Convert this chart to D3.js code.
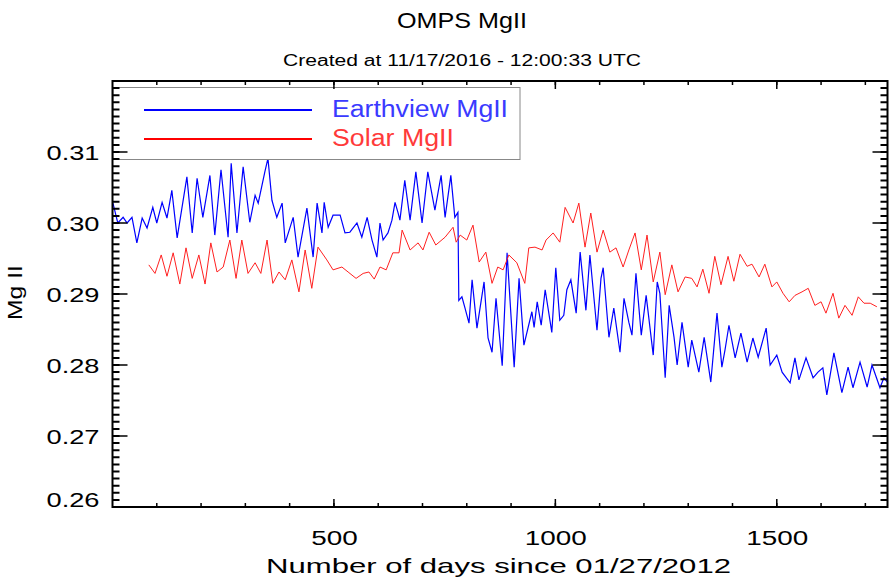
<!DOCTYPE html>
<html>
<head>
<meta charset="utf-8">
<script src="https://cdn.jsdelivr.net/npm/d3@7"></script>
<style>
body { margin: 0; background: #fff; }
text { font-family: "Liberation Sans", Arial, sans-serif; fill: #000; }
</style>
</head>
<body>
<svg id="chart"></svg>
<script>
const WIDTH = 889, HEIGHT = 583
const LEFT = 112.5, RIGHT = 887.5, TOP = 81, BOT = 507

// Earthview MgII (days since 01/27/2012, value)
const earthDays = [1, 12, 24, 33, 44, 55, 67, 78, 91, 100, 112, 123, 134, 146, 168, 180, 191, 204, 220, 231,
  245, 261, 268, 281, 295, 310, 322, 329, 344, 351, 360, 371, 383, 390, 408, 419, 439, 453, 462, 473,
  478, 487, 498, 514, 525, 536, 552, 563, 575, 586, 597, 604, 611, 622, 631, 638, 645, 649, 660, 672,
  685, 699, 712, 728, 742, 751, 764, 773, 780, 782, 789, 796, 805, 812, 823, 839, 848, 857, 866, 880,
  891, 907, 918, 929, 947, 952, 959, 968, 977, 992, 1001, 1010, 1019, 1026, 1035, 1047, 1056, 1069, 1078, 1094,
  1103, 1108, 1121, 1132, 1146, 1155, 1166, 1173, 1182, 1194, 1205, 1221, 1230, 1236, 1248, 1257, 1268, 1275, 1286, 1300,
  1308, 1324, 1336, 1351, 1365, 1376, 1383, 1392, 1406, 1419, 1433, 1446, 1458, 1476, 1485, 1500, 1512, 1530, 1541, 1550,
  1566, 1582, 1593, 1604, 1613, 1629, 1647, 1661, 1672, 1688, 1704, 1715, 1733, 1742, 1751]
const earthVals = [0.3028, 0.3000, 0.3008, 0.3000, 0.3008, 0.2972, 0.3007, 0.2993, 0.3022, 0.3000, 0.3029, 0.3007, 0.3046, 0.2979, 0.3065, 0.2986, 0.3063, 0.3008, 0.3067, 0.2983,
  0.3075, 0.2980, 0.3084, 0.2986, 0.3079, 0.3001, 0.3039, 0.3028, 0.3072, 0.3091, 0.3032, 0.3008, 0.3028, 0.2972, 0.3008, 0.2952, 0.3021, 0.2952, 0.3028, 0.2986,
  0.3029, 0.2994, 0.3011, 0.3011, 0.2986, 0.2987, 0.3000, 0.2980, 0.3008, 0.2976, 0.2952, 0.3000, 0.2976, 0.2986, 0.3004, 0.3029, 0.3014, 0.3004, 0.3060, 0.3004,
  0.3072, 0.3000, 0.3072, 0.3018, 0.3067, 0.3008, 0.3067, 0.3008, 0.3015, 0.2891, 0.2896, 0.2880, 0.2859, 0.2920, 0.2852, 0.2917, 0.2838, 0.2818, 0.2894, 0.2799,
  0.2958, 0.2797, 0.2922, 0.2828, 0.2875, 0.2853, 0.2889, 0.2856, 0.2906, 0.2846, 0.2937, 0.2863, 0.2870, 0.2906, 0.2920, 0.2873, 0.2959, 0.2877, 0.2955, 0.2849,
  0.2922, 0.2937, 0.2839, 0.2880, 0.2818, 0.2894, 0.2860, 0.2842, 0.2929, 0.2842, 0.2898, 0.2814, 0.2917, 0.2901, 0.2782, 0.2884, 0.2839, 0.2800, 0.2860, 0.2797,
  0.2835, 0.2790, 0.2839, 0.2776, 0.2873, 0.2797, 0.2821, 0.2856, 0.2810, 0.2845, 0.2804, 0.2838, 0.2811, 0.2852, 0.2800, 0.2814, 0.2790, 0.2775, 0.2810, 0.2779,
  0.2810, 0.2782, 0.2790, 0.2796, 0.2758, 0.2817, 0.2761, 0.2797, 0.2768, 0.2804, 0.2769, 0.2800, 0.2768, 0.2782, 0.2775]

// Solar MgII
const solarDays = [82, 96, 110, 123, 137, 152, 166, 180, 195, 209, 222, 236, 250, 265, 279, 292, 306, 322, 335, 349,
  362, 376, 390, 405, 421, 435, 450, 464, 484, 498, 518, 532, 550, 566, 579, 591, 604, 618, 633, 647,
  654, 672, 690, 701, 715, 730, 751, 769, 776, 785, 800, 814, 828, 843, 857, 870, 882, 895, 913, 931,
  940, 954, 970, 979, 995, 1010, 1022, 1040, 1053, 1067, 1080, 1094, 1108, 1123, 1137, 1153, 1166, 1180, 1194, 1207,
  1221, 1236, 1248, 1263, 1277, 1293, 1308, 1320, 1333, 1347, 1360, 1374, 1390, 1403, 1417, 1433, 1444, 1460, 1473, 1489,
  1500, 1514, 1528, 1541, 1557, 1571, 1586, 1600, 1611, 1627, 1640, 1654, 1670, 1684, 1697, 1711, 1726]
const solarVals = [0.2941, 0.2929, 0.2955, 0.2925, 0.2958, 0.2914, 0.2965, 0.2922, 0.2955, 0.2914, 0.2972, 0.2931, 0.2938, 0.2976, 0.2922, 0.2976, 0.2929, 0.2944, 0.2929, 0.2976,
  0.2915, 0.2931, 0.2920, 0.2948, 0.2903, 0.2962, 0.2908, 0.2966, 0.2948, 0.2934, 0.2938, 0.2931, 0.2922, 0.2929, 0.2931, 0.2921, 0.2938, 0.2934, 0.2958, 0.2958,
  0.2990, 0.2962, 0.2972, 0.2962, 0.2987, 0.2969, 0.2980, 0.2994, 0.2973, 0.2983, 0.2976, 0.2997, 0.2945, 0.2959, 0.2915, 0.2938, 0.2934, 0.2955, 0.2944, 0.2915,
  0.2965, 0.2966, 0.2962, 0.2976, 0.2986, 0.2973, 0.3022, 0.3000, 0.3028, 0.2966, 0.3014, 0.2959, 0.2990, 0.2959, 0.2965, 0.2938, 0.2962, 0.2986, 0.2934, 0.2983,
  0.2917, 0.2959, 0.2899, 0.2941, 0.2903, 0.2924, 0.2922, 0.2910, 0.2935, 0.2901, 0.2953, 0.2913, 0.2953, 0.2918, 0.2956, 0.2939, 0.2942, 0.2924, 0.2942, 0.2910,
  0.2917, 0.2901, 0.2889, 0.2898, 0.2903, 0.2908, 0.2884, 0.2889, 0.2873, 0.2901, 0.2866, 0.2884, 0.2870, 0.2896, 0.2887, 0.2887, 0.2882]

const xMajor = [500, 1000, 1500]
const xMinor = d3.range(100, 1750, 100)
const yMajor = [0.26, 0.27, 0.28, 0.29, 0.30, 0.31]
const yMinor = d3.range(0, 61).map(i => 0.26 + i * 0.001)
const legendNames = ["Earthview MgII", "Solar MgII"]
const legendColors = ["#0000ff", "#ff0000"]

const svg = d3.select("#chart").attr("width", WIDTH).attr("height", HEIGHT)

const x = d3.scaleLinear().domain([0, 1750]).range([LEFT, RIGHT])
const y = d3.scaleLinear().domain([0.26, 0.32]).range([BOT, TOP])

svg.append("defs").append("clipPath").attr("id", "plotclip")
  .append("rect").attr("x", LEFT).attr("y", TOP).attr("width", RIGHT - LEFT).attr("height", BOT - TOP)

// titles
svg.append("text").attr("x", 397).attr("y", 28).attr("font-size", 22)
  .attr("textLength", 130).attr("lengthAdjust", "spacingAndGlyphs").text("OMPS MgII")
svg.append("text").attr("x", 283).attr("y", 66).attr("font-size", 16)
  .attr("textLength", 358).attr("lengthAdjust", "spacingAndGlyphs").text("Created at 11/17/2016 - 12:00:33 UTC")

// data lines
const lineGen = d3.line().x(d => x(d[0])).y(d => y(d[1]))
const plot = svg.append("g").attr("clip-path", "url(#plotclip)")
plot.append("path").datum(d3.zip(earthDays, earthVals))
  .attr("d", lineGen).attr("fill", "none").attr("stroke", "#0000ff").attr("stroke-width", 1.2)
plot.append("path").datum(d3.zip(solarDays, solarVals))
  .attr("d", lineGen).attr("fill", "none").attr("stroke", "#ff2020").attr("stroke-width", 1)

// legend
const legend = svg.append("g")
legend.append("rect").attr("x", LEFT + 0.5).attr("y", 87.5).attr("width", 407).attr("height", 72)
  .attr("fill", "#fff").attr("stroke", "#888").attr("stroke-width", 1)
const legendRows = [{ y: 110, base: 117, len: 176 }, { y: 139, base: 146, len: 122 }]
legendNames.forEach((name, i) => {
  legend.append("line").attr("x1", 144).attr("x2", 312).attr("y1", legendRows[i].y).attr("y2", legendRows[i].y)
    .attr("stroke", legendColors[i]).attr("stroke-width", 2)
  legend.append("text").attr("x", 332).attr("y", legendRows[i].base).attr("font-size", 23)
    .attr("textLength", legendRows[i].len).attr("lengthAdjust", "spacingAndGlyphs")
    .style("fill", i === 0 ? "#3a3aff" : "#ff3a3a").text(name)
})

// axis labels via d3 axes (tick lines drawn as paths below)
const yAx = svg.append("g").attr("transform", `translate(${LEFT},0)`)
  .call(d3.axisLeft(y).tickValues(yMajor).tickSize(0).tickPadding(13).tickFormat(d3.format(".2f")))
yAx.select(".domain").remove()
yAx.selectAll("text").attr("font-size", 20).attr("font-family", null)
  .attr("textLength", 53).attr("lengthAdjust", "spacingAndGlyphs")
  .attr("dy", d => d === 0.26 ? "-0.05em" : "0.35em")
const xAx = svg.append("g").attr("transform", `translate(0,${BOT})`)
  .call(d3.axisBottom(x).tickValues(xMajor).tickSize(0).tickFormat(d3.format("d")))
xAx.select(".domain").remove()
xAx.selectAll("text").attr("font-size", 20).attr("font-family", null)
  .attr("y", 38).attr("dy", 0)
  .attr("textLength", d => String(d).length * 15.5).attr("lengthAdjust", "spacingAndGlyphs")

// tick marks, pointing into the plot on all four sides
const ticks = svg.append("g").attr("fill", "none").attr("stroke", "#000")
function tickMarks(vals, scale, side, len, width) {
  const d = vals.map(v => {
    const p = scale(v)
    if (side === "left") return `M${LEFT},${p}h${len}`
    if (side === "right") return `M${RIGHT},${p}h${-len}`
    if (side === "top") return `M${p},${TOP}v${len}`
    return `M${p},${BOT}v${-len}`
  }).join("")
  ticks.append("path").attr("d", d).attr("stroke-width", width)
}
tickMarks(yMinor, y, "left", 7, 2)
tickMarks(yMinor, y, "right", 7, 2)
tickMarks(yMajor, y, "left", 15, 1.5)
tickMarks(yMajor, y, "right", 15, 1.5)
tickMarks(xMinor, x, "bottom", 4, 1.5)
tickMarks(xMinor, x, "top", 4, 1.5)
tickMarks(xMajor, x, "bottom", 8, 1.5)
tickMarks(xMajor, x, "top", 8, 1.5)

// frame
svg.append("rect").attr("x", LEFT).attr("y", TOP).attr("width", RIGHT - LEFT).attr("height", BOT - TOP)
  .attr("fill", "none").attr("stroke", "#000").attr("stroke-width", 2)

// axis titles
svg.append("text").attr("x", 266).attr("y", 573).attr("font-size", 21)
  .attr("textLength", 465).attr("lengthAdjust", "spacingAndGlyphs").text("Number of days since 01/27/2012")
svg.append("text").attr("transform", "translate(22,320) rotate(-90)").attr("font-size", 20)
  .attr("textLength", 55).attr("lengthAdjust", "spacingAndGlyphs").text("Mg II")
</script>
</body>
</html>
